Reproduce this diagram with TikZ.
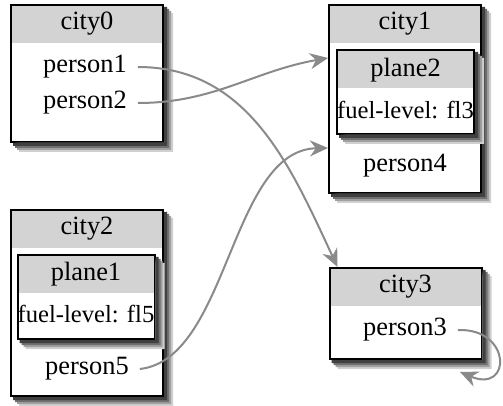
\documentclass[tikz,border=0pt]{standalone}
\usepackage{fontspec}
\setmainfont{Liberation Serif}
\usetikzlibrary{arrows.meta}
\definecolor{hdrGray}{HTML}{D3D3D3}
\definecolor{mvGray}{HTML}{8A8A8A}
\definecolor{shadeA}{HTML}{D0D0D0}
\definecolor{shadeB}{HTML}{A0A0A0}
\definecolor{shadeC}{HTML}{707070}
\definecolor{shadeD}{HTML}{404040}
\newcommand{\fsmain}{\fontsize{13.2}{15}\selectfont}
\newcommand{\fssmall}{\fontsize{12.3}{14}\selectfont}
\tikzset{
  citybox/.style={draw, line width=1pt, fill=white, inner sep=0pt},
  hdr/.style={fill=hdrGray},
  move/.style={draw=mvGray, line width=1pt, -{Stealth[length=9pt, width=8pt]}},
}
% L-shaped shadow strip: box name, depth, colour
\newcommand{\shadestrip}[3]{%
  \fill[#3] ([yshift=-#2]#1.north east) -- ([shift={(#2,-#2)}]#1.north east)
    -- ([shift={(#2,-#2)}]#1.south east) -- ([shift={(#2,-#2)}]#1.south west)
    -- ([xshift=#2]#1.south west) -- (#1.south east) -- cycle;
}
% name, x, y, width, height
\newcommand{\shadedbox}[5]{%
  \node[citybox, minimum width=#4, minimum height=#5] (#1) at (#2,#3) {};
  \shadestrip{#1}{4.5pt}{shadeA}
  \shadestrip{#1}{3.5pt}{shadeB}
  \shadestrip{#1}{2.5pt}{shadeC}
  \shadestrip{#1}{1.5pt}{shadeD}
  \fill[hdr] ([shift={(1pt,-1pt)}]#1.north west) rectangle ([shift={(-1pt,-19.5pt)}]#1.north east);
}

\begin{document}
\begin{tikzpicture}[x=0.5pt, y=-0.5pt, font=\fsmain]
    \useasboundingbox (0,0) rectangle (503,406);
    % cities
    \shadedbox{c0}{87}{73.5}{76pt}{68.5pt}
    \shadedbox{c1}{405}{99}{76pt}{94pt}
    \shadedbox{c2}{87}{303}{76pt}{93pt}
    \shadedbox{c3}{405.5}{313.5}{76pt}{45.5pt}
    % planes
    \shadedbox{pl2}{405.5}{92}{68.5pt}{42pt}
    \shadedbox{pl1}{86}{297}{68.5pt}{42pt}
    % titles
    \node (c0t)  at (87,24)    {city0};
    \node (c1t)  at (405,24)   {city1};
    \node (c2t)  at (87,229)   {city2};
    \node (c3t)  at (405.5,287) {city3};
    \node (pl2t) at (405.5,70) {plane2};
    \node (pl1t) at (86,274)   {plane1};
    \node[font=\fssmall] (f3) at (405.5,110) {fuel-level: fl3};
    \node[font=\fssmall] (f5) at (86,314)    {fuel-level: fl5};
    % people
    \node (p1) at (85,67)    {person1};
    \node (p2) at (85,103)   {person2};
    \node (p4) at (405,166)  {person4};
    \node (p5) at (87,369)   {person5};
    \node (p3) at (405,330)  {person3};
    \coordinate (c3loop) at (460,372);
    % moves
    \draw[move] ([xshift=2pt]p1.east) to[out=0, in=115] ([xshift=4.5pt]c3.north west);
    \draw[move] ([xshift=2pt]p2.east) to[out=0, in=190] ([yshift=20.5pt]c1.west);
    \draw[move] ([xshift=2pt]p5.east) .. controls +(89,-10) and +(-98,2) .. ([yshift=-24.5pt]c1.west);
    \draw[move] ([xshift=2pt]p3.east) .. controls +(54,-2) and +(52,22) .. (c3loop);
\end{tikzpicture}
\end{document}
